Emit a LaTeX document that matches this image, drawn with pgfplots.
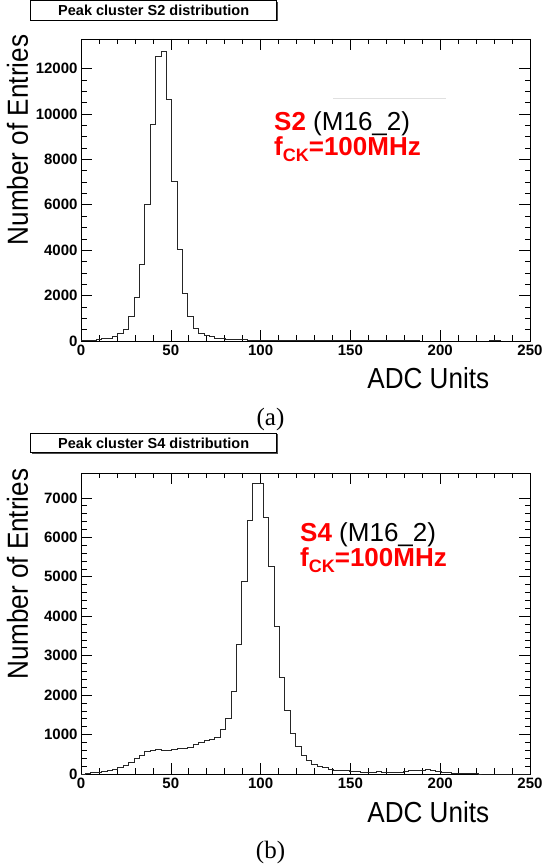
\documentclass[border=0pt]{standalone}
\usepackage{fontspec}
\setmainfont{Liberation Sans}
\newfontfamily\serif{Liberation Serif}
\usepackage{graphicx}
\usepackage{pgfplots}
\usepackage{pgfplotstable}
\pgfplotsset{compat=1.18}

% bin left edge, entries (bins of 3 ADC units)
\pgfplotstableread{
x y
-0.5 20
2.5 30
5.5 40
8.5 60
11.5 110
14.5 130
17.5 200
20.5 320
23.5 520
26.5 1075
29.5 1934
32.5 3355
35.5 6036
38.5 9552
41.5 12555
44.5 12746
47.5 10650
50.5 7032
53.5 4014
56.5 2080
59.5 1065
62.5 550
65.5 340
68.5 235
71.5 185
74.5 130
77.5 100
80.5 80
83.5 70
86.5 60
89.5 55
92.5 45
95.5 40
98.5 35
101.5 30
104.5 28
107.5 25
110.5 22
113.5 20
116.5 18
119.5 16
122.5 15
125.5 14
128.5 13
131.5 12
134.5 11
137.5 10
140.5 10
143.5 9
146.5 9
149.5 8
152.5 8
155.5 7
158.5 7
161.5 7
164.5 6
167.5 6
170.5 6
173.5 5
176.5 5
179.5 5
182.5 5
185.5 5
188.5 4
191.5 4
194.5 4
197.5 4
200.5 4
203.5 4
206.5 3
209.5 3
212.5 3
215.5 3
218.5 3
221.5 3
224.5 4
227.5 30
230.5 30
233.5 3
236.5 2
239.5 1
242.5 1
245.5 0
248.5 0
251.5 0
}\histA

\pgfplotstableread{
x y
-0.5 0
2.5 10
5.5 30
8.5 50
11.5 75
14.5 95
17.5 120
20.5 155
23.5 212
26.5 305
29.5 400
32.5 483
35.5 573
38.5 605
41.5 615
44.5 590
47.5 610
50.5 630
53.5 645
56.5 650
59.5 680
62.5 740
65.5 805
68.5 845
71.5 885
74.5 920
77.5 1125
80.5 1415
83.5 2105
86.5 3285
89.5 4880
92.5 6430
95.5 7372
98.5 7354
101.5 6498
104.5 5252
107.5 3752
110.5 2456
113.5 1609
116.5 1017
119.5 694
122.5 470
125.5 338
128.5 245
131.5 194
134.5 165
137.5 110
140.5 100
143.5 95
146.5 90
149.5 70
152.5 65
155.5 50
158.5 45
161.5 50
164.5 60
167.5 45
170.5 40
173.5 45
176.5 50
179.5 65
182.5 85
185.5 95
188.5 100
191.5 105
194.5 100
197.5 75
200.5 50
203.5 30
206.5 15
209.5 5
212.5 20
215.5 20
218.5 5
221.5 0
224.5 0
248.5 0
251.5 0
}\histB

\pgfplotsset{
  rootaxis/.style={
    scale only axis, width=449pt, anchor=south west,
    xmin=0, xmax=250, ymin=0,
    xtick={0,50,...,250}, minor x tick num=4,
    tick align=inside, tick pos=both,
    major tick length=11pt, minor tick length=5.5pt,
    tick style={black, line width=0.6pt},
    axis line style={black, line width=0.7pt},
    ticklabel style={font=\fontsize{15}{17}\selectfont\bfseries},
    /pgf/number format/assume math mode=true,
    /pgf/number format/1000 sep={},
    scaled y ticks=false,
  },
  histline/.style={const plot mark left, black!85, line width=0.8pt, mark=none},
}

\newcommand{\axtitle}[1]{\fontsize{29}{32}\selectfont\scalebox{0.9}[1]{#1}}
\newcommand{\titlebox}[3]{%
  \fill[black!70] (#1+1.5pt,#2-1.5pt) rectangle (279.8pt+1.5pt,#2-19.3pt-1.5pt);
  \draw[fill=white, line width=0.8pt] (#1,#2) rectangle (279.8pt,#2-19.3pt);
  \node[font=\fontsize{14.5}{16}\selectfont\bfseries] at (156.7pt,#2-9.9pt) {#3};
}

\begin{document}
\begin{tikzpicture}
\useasboundingbox (3pt,0pt) rectangle (546pt,865pt);

% ---------- (a) ----------
\begin{axis}[rootaxis, at={(84pt,524pt)}, height=302pt, ymax=13300,
  ytick={0,2000,...,12000}, minor y tick num=3]
  \addplot[histline] table {\histA};
\end{axis}
\titlebox{33.6pt}{864.3pt}{Peak cluster S2 distribution}
\node[rotate=90, anchor=base east, inner sep=0] at (31pt,830.4pt) {\axtitle{Number of Entries}};
\node[anchor=base east, inner sep=0] at (492.4pt,476pt) {\axtitle{ADC Units}};
\draw[black!12, line width=0.6pt] (336pt,767pt) -- (449pt,767pt);
\node[anchor=base west, inner sep=0, font=\fontsize{26}{30}\selectfont] at (277pt,734pt)
  {\textcolor{red}{\bfseries S2} (M16\_2)};
\node[anchor=base west, inner sep=0, font=\fontsize{26}{30}\selectfont\bfseries, text=red] at (277pt,709pt)
  {f\raisebox{-0.22em}{\fontsize{18}{20}\selectfont CK}=100MHz};
\node[anchor=base, inner sep=0, font=\serif\fontsize{25}{28}\selectfont] at (273.5pt,439pt) {(a)};

% ---------- (b) ----------
\begin{axis}[rootaxis, at={(84pt,91pt)}, height=301pt, ymax=7630,
  ytick={0,1000,...,7000}, minor y tick num=4]
  \addplot[histline] table {\histB};
\end{axis}
\titlebox{33.6pt}{432pt}{Peak cluster S4 distribution}
\node[rotate=90, anchor=base east, inner sep=0] at (31pt,396.5pt) {\axtitle{Number of Entries}};
\node[anchor=base east, inner sep=0] at (492.4pt,42.7pt) {\axtitle{ADC Units}};
\node[anchor=base west, inner sep=0, font=\fontsize{26}{30}\selectfont] at (303pt,323.3pt)
  {\textcolor{red}{\bfseries S4} (M16\_2)};
\node[anchor=base west, inner sep=0, font=\fontsize{26}{30}\selectfont\bfseries, text=red] at (303pt,298.3pt)
  {f\raisebox{-0.22em}{\fontsize{18}{20}\selectfont CK}=100MHz};
\node[anchor=base, inner sep=0, font=\serif\fontsize{25}{28}\selectfont] at (273.5pt,6pt) {(b)};
\end{tikzpicture}
\end{document}
